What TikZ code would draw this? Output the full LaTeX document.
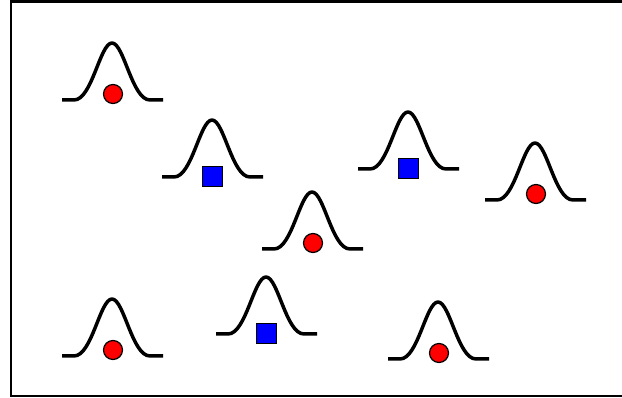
\documentclass[tikz,border=0pt]{standalone}
\usepackage{tikz}
\usepackage{xcolor}
\definecolor{dotred}{HTML}{FF0000}
\definecolor{boxblue}{HTML}{0000FF}

\tikzset{
  curve/.style={black, line width=0.07cm, line join=round},
  bell/.pic={
    \draw[curve] (-50,0) -- (-38,0) .. controls (-20,0) and (-12,-57) .. (0,-57)
                 .. controls (12,-57) and (20,0) .. (38,0) -- (51,0);
  },
}

\begin{document}
\begin{tikzpicture}[x=0.02cm, y=-0.02cm]
\useasboundingbox (0,0) rectangle (622,398);
\clip (0,0) rectangle (622,398);
\fill[white] (0,0) rectangle (622,398);
\draw[black, line width=0.045cm] (11,1.5) rectangle (640,396);
% bells with a red dot
\foreach \cx/\by in {112/100, 535/200, 312/249, 112/356, 438/359} {
  \pic at (\cx,\by) {bell};
  \filldraw[fill=dotred, draw=black, line width=0.025cm] (\cx+1,\by-6) circle (9.5);
}
% bells with a blue box
\foreach \cx/\by in {212/177, 408/169, 266/334} {
  \pic at (\cx,\by) {bell};
  \filldraw[fill=boxblue, draw=black, line width=0.025cm] (\cx-9.5,\by-10.5) rectangle (\cx+10.5,\by+9.5);
}
\end{tikzpicture}
\end{document}
